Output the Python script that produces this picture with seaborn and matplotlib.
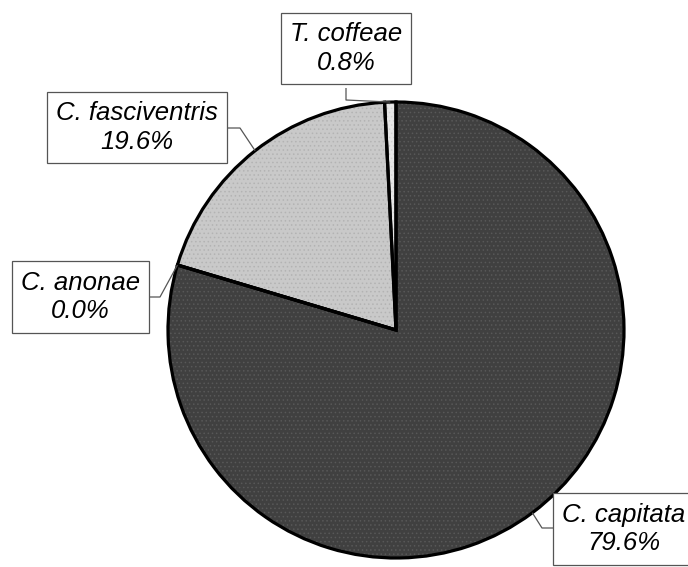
import numpy as np
import matplotlib
matplotlib.use("Agg")
import matplotlib.pyplot as plt
import seaborn as sns

# Species shares of the sample (percent)
species = ["C. capitata", "C. anonae", "C. fasciventris", "T. coffeae"]
shares = [79.6, 0.0, 19.6, 0.8]
share_labels = ["79.6%", "0.0%", "19.6%", "0.8%"]

# Fill styling per wedge
fill_colors = ["#404040", "#c9c9c9", "#c9c9c9", "#e6e6e6"]
hatch_colors = ["#585858", "#b3b3b3", "#b3b3b3", "#d2d2d2"]
hatches = ["....", "....", "....", "...."]

sns.set_theme(style="white")
plt.rcParams["font.family"] = ["Liberation Sans", "DejaVu Sans"]
plt.rcParams["hatch.linewidth"] = 0.6

W, H = 688, 567
fig = plt.figure(figsize=(W / 100, H / 100), dpi=100)
ax = fig.add_axes([0, 0, 1, 1])


def px(x, y):
    """Convert top-down pixel position to axes data coordinates."""
    return x, H - y


center_px = (396, 330)
radius = 228
cx, cy = px(*center_px)

# Textured fill (hatch drawn in the edge colour, no outline)
wedges, _ = ax.pie(shares, center=(cx, cy), radius=radius, startangle=90,
                   counterclock=False, colors=fill_colors, hatch=hatches,
                   wedgeprops=dict(linewidth=0), frame=True)
for w, hc in zip(wedges, hatch_colors):
    w.set_edgecolor(hc)
    w.set_linewidth(0)

# Black outlines on top
outl, _ = ax.pie(shares, center=(cx, cy), radius=radius, startangle=90,
                 counterclock=False, colors=["none"] * len(shares),
                 wedgeprops=dict(linewidth=2.3, edgecolor="black",
                                 facecolor="none"), frame=True)

# Label boxes with leader lines to the middle of each wedge's arc
label_centers = {
    "C. capitata": (624, 529),
    "C. anonae": (80.5, 297),
    "C. fasciventris": (137, 127.5),
    "T. coffeae": (346, 48.5),
}
elbows = {
    "C. capitata": [(555, 528), (542, 528)],
    "C. anonae": [(148, 297), (160, 297)],
    "C. fasciventris": [(227, 128), (240, 128)],
    "T. coffeae": [(346, 88), (346, 100)],
}

for name, w, lab in zip(species, outl, share_labels):
    mid = np.deg2rad((w.theta1 + w.theta2) / 2)
    ax_pt = (cx + radius * np.cos(mid), cy + radius * np.sin(mid))
    pts = [px(*p) for p in elbows[name]] + [ax_pt]
    xs, ys = zip(*pts)
    ax.plot(xs, ys, color="#555555", lw=0.9, zorder=3, solid_capstyle="butt")
    tx, ty = px(*label_centers[name])
    ax.text(tx, ty, f"{name}\n{lab}", ha="center", va="center",
            fontsize=18.5, style="italic", color="black", linespacing=1.25,
            zorder=4,
            bbox=dict(boxstyle="square,pad=0.36", facecolor="white",
                      edgecolor="#555555", linewidth=0.9))

ax.set_xlim(0, W)
ax.set_ylim(0, H)
ax.set_aspect("equal")
ax.axis("off")

fig.savefig("out.png", dpi=100, facecolor="white")
